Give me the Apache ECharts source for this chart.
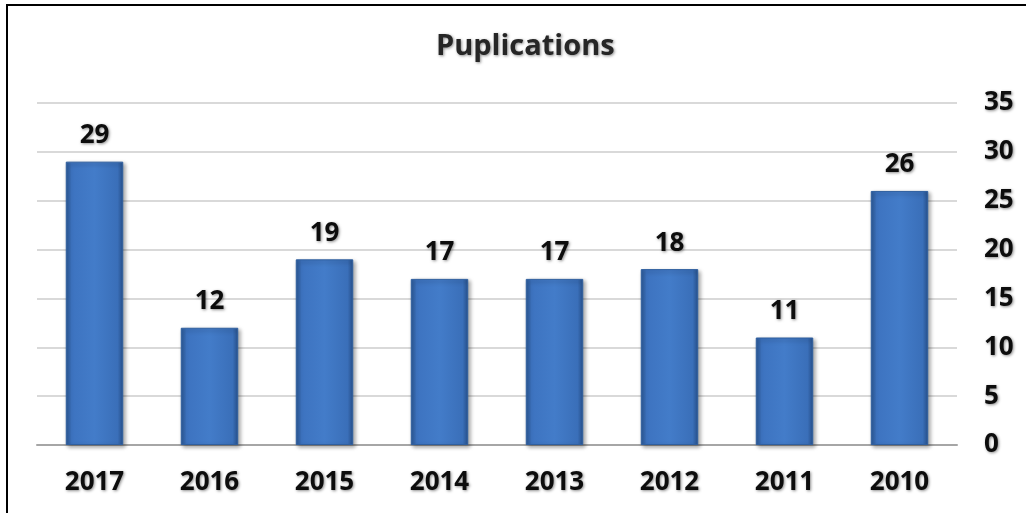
<!DOCTYPE html>
<html>
<head>
<meta charset="utf-8">
<title>Puplications</title>
<script src="https://cdn.jsdelivr.net/npm/echarts@6/dist/echarts.min.js"></script>
<style>
  html, body { margin: 0; padding: 0; background: #fff; }
  #wrap { position: relative; width: 1026px; height: 513px; }
  #chart { width: 1026px; height: 513px; }
  /* 左上方的黑色边框（原图被裁切，只剩两条边） */
  #frame {
    position: absolute; left: 6px; top: 4px; right: 0; bottom: 0;
    border-left: 2px solid #000; border-top: 2px solid #000;
    pointer-events: none;
  }
</style>
</head>
<body>
<div id="wrap">
  <div id="chart"></div>
  <div id="frame"></div>
</div>
<script>
  // 数据
  const years = ['2017', '2016', '2015', '2014', '2013', '2012', '2011', '2010']
  const counts = [29, 12, 19, 17, 17, 18, 11, 26]
  const yTicks = [0, 5, 10, 15, 20, 25, 30, 35]

  // 文字阴影
  const textShadow = {
    textShadowColor: 'rgba(0,0,0,0.45)',
    textShadowBlur: 3,
    textShadowOffsetX: 1,
    textShadowOffsetY: 1
  }

  const font = '"Open Sans", "Liberation Sans", sans-serif'

  const labelStyle = {
    fontFamily: font,
    fontSize: 26,
    fontWeight: 'bold',
    color: '#0d0d0d',
    ...textShadow
  }

  const chart = echarts.init(document.getElementById('chart'))
  chart.setOption({
    animation: false,
    title: {
      text: 'Puplications',
      left: 431,
      top: 27,
      textStyle: {
        fontFamily: font,
        fontSize: 29,
        fontWeight: 'bold',
        color: '#262626',
        ...textShadow
      }
    },
    grid: {
      left: 37,
      right: 69,
      top: 103,
      bottom: 68
    },
    xAxis: {
      type: 'category',
      data: years,
      axisTick: { show: false },
      axisLine: { lineStyle: { color: '#a6a6a6', width: 2 } },
      axisLabel: { margin: 25, ...labelStyle }
    },
    yAxis: {
      type: 'value',
      position: 'right',
      min: yTicks[0],
      max: yTicks[yTicks.length - 1],
      interval: yTicks[1] - yTicks[0],
      axisLine: { show: false },
      axisTick: { show: false },
      splitLine: { lineStyle: { color: '#d9d9d9', width: 2 } },
      axisLabel: { margin: 27, align: 'left', ...labelStyle }
    },
    series: [
      {
        type: 'bar',
        data: counts,
        barWidth: '50%',
        itemStyle: {
          color: new echarts.graphic.LinearGradient(0, 0, 1, 0, [
            { offset: 0, color: '#2b5894' },
            { offset: 0.1, color: '#3d73c0' },
            { offset: 0.5, color: '#437cc9' },
            { offset: 0.9, color: '#3a6fb9' },
            { offset: 1, color: '#28518b' }
          ]),
          borderColor: '#2f5f9f',
          borderWidth: 1,
          shadowColor: 'rgba(0,0,0,0.35)',
          shadowBlur: 4,
          shadowOffsetX: 2,
          shadowOffsetY: 2
        },
        label: {
          show: true,
          position: 'top',
          distance: 13,
          ...labelStyle
        }
      }
    ]
  })
</script>
</body>
</html>
